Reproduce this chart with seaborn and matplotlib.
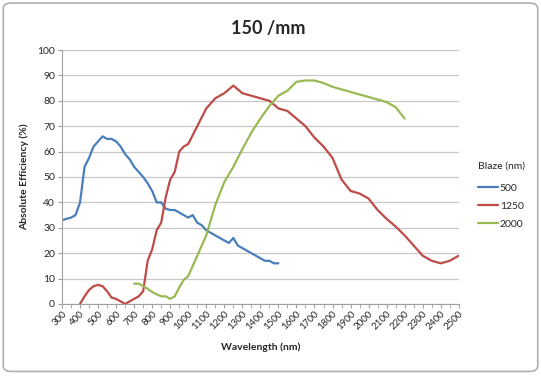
import pandas as pd
import seaborn as sns
import matplotlib.pyplot as plt
from matplotlib.patches import FancyBboxPatch
from matplotlib.ticker import MultipleLocator

# blaze 500 nm
wl_500 = [300, 325, 350, 375, 400, 425, 450, 475, 500, 525, 550, 575, 600, 625, 650, 675,
          700, 725, 750, 775, 800, 825, 850, 875, 900, 925, 950, 975, 1000, 1025, 1050,
          1075, 1100, 1125, 1150, 1175, 1200, 1225, 1250, 1275, 1300, 1325, 1350, 1375,
          1400, 1425, 1450, 1475, 1500]
eff_500 = [33, 33.5, 34, 35, 40, 54, 57.5, 62, 64, 66, 65, 65, 64, 62, 59, 57,
           54, 52, 50, 47.5, 44.5, 40, 40, 37.5, 37, 37, 36, 35, 34, 35, 32,
           31, 29, 28, 27, 26, 25, 24, 26, 23, 22, 21, 20, 19,
           18, 17, 17, 16, 16]

# blaze 1250 nm
wl_1250 = [400, 425, 450, 475, 500, 525, 550, 575, 600, 625, 650, 675, 700, 725, 750,
           775, 800, 825, 850, 875, 900, 925, 950, 975, 1000, 1050, 1100, 1150, 1200,
           1250, 1300, 1350, 1400, 1450, 1500, 1550, 1600, 1650, 1700, 1750, 1800,
           1850, 1900, 1950, 2000, 2050, 2100, 2150, 2200, 2250, 2300, 2350, 2400,
           2450, 2500]
eff_1250 = [0, 3, 5.5, 7, 7.5, 7, 5, 2.5, 2, 1, 0, 1, 2, 3, 5,
            17, 21.5, 29, 32, 42, 49, 52, 60, 62, 63, 70, 77, 81, 83,
            86, 83, 82, 81, 80, 77, 76, 73, 70, 65.5, 62, 57.5,
            49, 44.5, 43.5, 41.5, 37, 33.5, 30.5, 27, 23, 19, 17, 16,
            17, 19]

# blaze 2000 nm
wl_2000 = [700, 725, 750, 775, 800, 825, 850, 875, 900, 925, 950, 975, 1000, 1050,
           1100, 1150, 1200, 1250, 1300, 1350, 1400, 1450, 1500, 1550, 1600, 1650,
           1700, 1750, 1800, 1850, 1900, 1950, 2000, 2050, 2100, 2150, 2200]
eff_2000 = [8, 8, 7, 6, 4.7, 3.8, 3, 3, 2, 3, 6.5, 9.5, 11, 19,
            27, 39, 48, 54, 61, 67.5, 73, 78, 82, 84, 87.5, 88,
            88, 87, 85.5, 84.5, 83.5, 82.5, 81.5, 80.5, 79.5, 77.5, 73]

df = pd.concat([
    pd.DataFrame({"wl": wl_500, "eff": eff_500, "blaze": "500"}),
    pd.DataFrame({"wl": wl_1250, "eff": eff_1250, "blaze": "1250"}),
    pd.DataFrame({"wl": wl_2000, "eff": eff_2000, "blaze": "2000"}),
])

sns.set_style("white")
plt.rcParams["font.family"] = ["Lato", "DejaVu Sans"]

fig = plt.figure(figsize=(5.41, 3.79), dpi=100)
ax = fig.add_axes([0.1146, 0.198, 0.7334, 0.67])

sns.lineplot(data=df, x="wl", y="eff", hue="blaze",
             palette=["#4A7EBB", "#BE4B48", "#98B954"], linewidth=1.6, ax=ax,
             sort=False, estimator=None)

ax.set_xlim(300, 2500)
ax.set_ylim(0, 100)
ax.xaxis.set_major_locator(MultipleLocator(100))
ax.xaxis.set_minor_locator(MultipleLocator(50))
ax.yaxis.set_major_locator(MultipleLocator(10))
ax.grid(axis="y", color="#C8C8C8", linewidth=0.9)
ax.set_axisbelow(True)
for s in ["top", "right"]:
    ax.spines[s].set_visible(False)
for s in ["left", "bottom"]:
    ax.spines[s].set_color("#A0A0A0")
    ax.spines[s].set_linewidth(0.8)
ax.tick_params(axis="x", which="both", direction="out", bottom=True, length=3,
               color="#A0A0A0", labelsize=7, pad=1)
ax.tick_params(axis="y", which="both", direction="out", left=True, length=3,
               color="#A0A0A0", labelsize=7.5, pad=2)
plt.setp(ax.get_xticklabels(), rotation=45, ha="right", rotation_mode="anchor")

ax.set_xlabel("Wavelength (nm)", fontsize=7.5, fontweight="bold", labelpad=8)
ax.set_ylabel("Absolute Efficiency (%)", fontsize=7.5, fontweight="bold", labelpad=6)
fig.text(0.495, 0.925, "150 /mm", ha="center", va="center", fontsize=13, fontweight="bold")

leg = ax.legend(title="Blaze (nm)", frameon=False, fontsize=7.5, title_fontsize=7.5,
                loc="upper left", bbox_to_anchor=(1.048, 0.56), handlelength=1.9,
                handletextpad=0.2, borderpad=0, borderaxespad=0,
                labelspacing=0.85, alignment="left")
leg._legend_box.sep = 9

fig.patches.append(FancyBboxPatch((0.006, 0.02), 0.988, 0.972,
                                  boxstyle="round,pad=0,rounding_size=0.015",
                                  transform=fig.transFigure, fill=False,
                                  edgecolor="#B0B0B0", linewidth=1.2))

fig.savefig("out.png", dpi=100)
